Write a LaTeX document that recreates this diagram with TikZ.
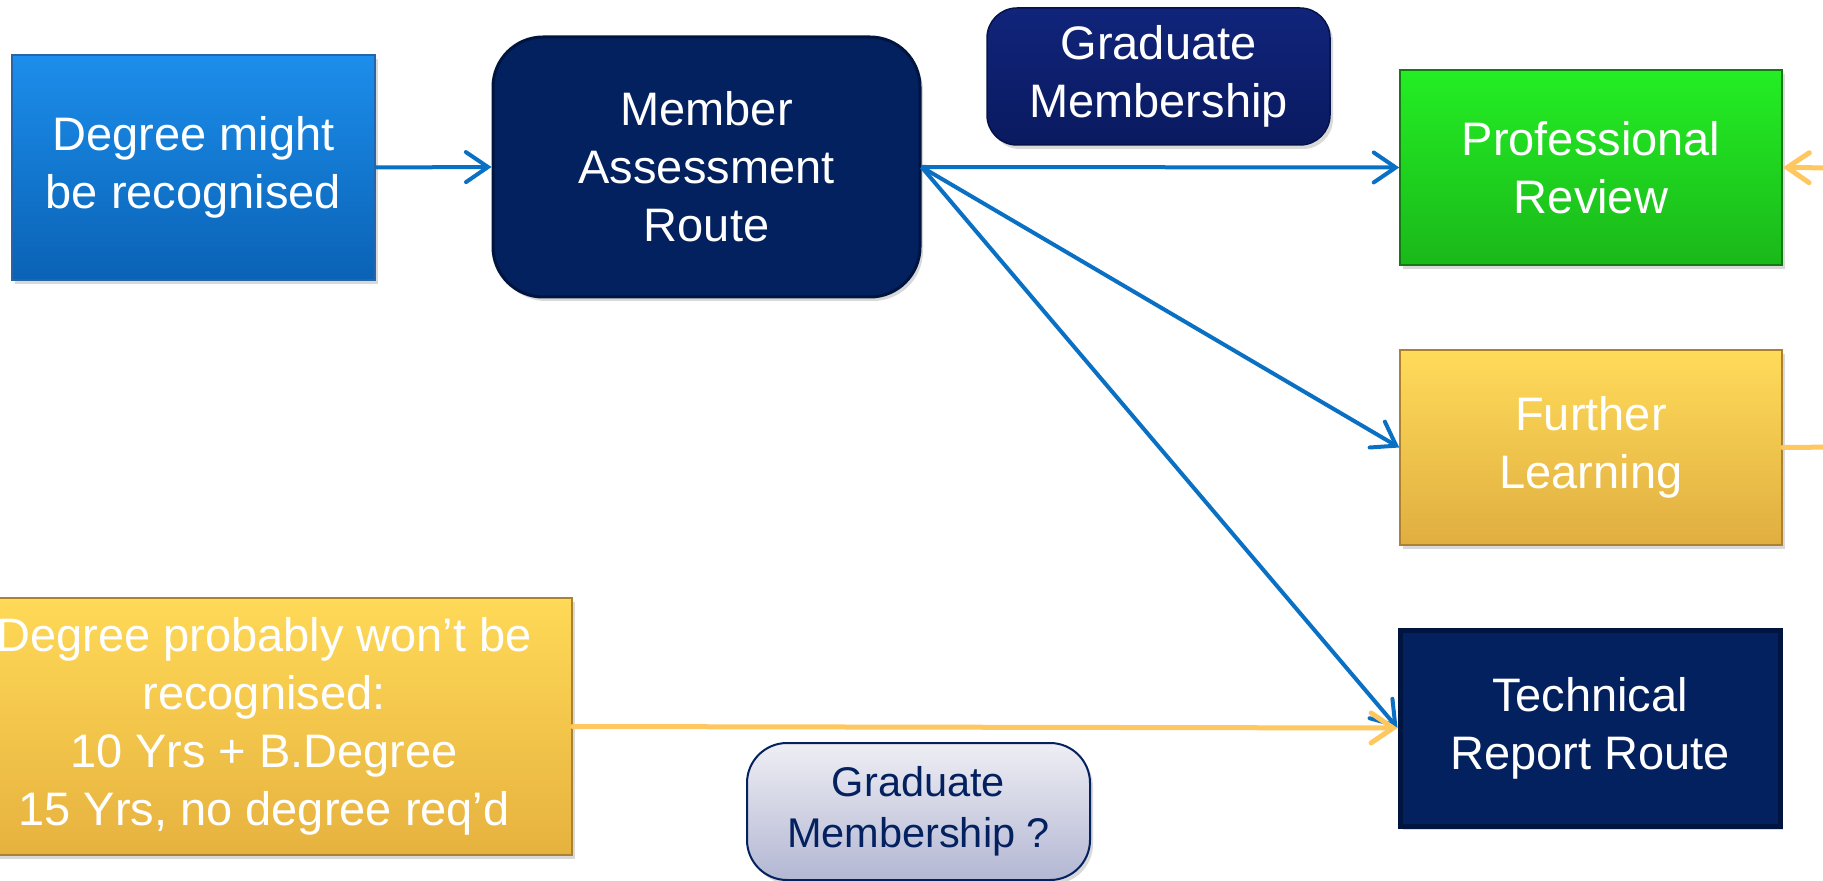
\documentclass[tikz,border=0pt]{standalone}
\usepackage{fontspec}
\setmainfont{Liberation Sans}
\usetikzlibrary{arrows.meta,shadows}
\definecolor{navy}{HTML}{03205F}
\definecolor{navyedge}{HTML}{001440}
\definecolor{arrowblue}{HTML}{0A70C4}
\definecolor{lineorange}{HTML}{FFC75F}
\begin{document}
\begin{tikzpicture}[x=0.5pt,y=-0.5pt,
  box/.style={rectangle, draw, line width=0.75pt, align=center, text=white, inner sep=0pt,
    font=\fontsize{23.5}{29}\selectfont,
    drop shadow={opacity=0.3, shadow xshift=1.5pt, shadow yshift=-2pt}},
  bluearrow/.style={draw=arrowblue, line width=2pt, line join=round,
    -{Straight Barb[length=11pt,width=15pt,line cap=round]}},
  orangeline/.style={draw=lineorange, line width=2.5pt, line cap=round},
  orangearrow/.style={orangeline, line join=round,
    -{Straight Barb[length=11pt,width=15pt,line cap=round]}}]
\useasboundingbox (0,0) rectangle (1823,881);
\clip (0,0) rectangle (1823,881);

\node[box, draw={rgb,255:red,40;green,100;blue,170}, top color={rgb,255:red,28;green,142;blue,235}, bottom color={rgb,255:red,10;green,98;blue,181},
  minimum width=181.5pt, minimum height=112.5pt] (deg) at (193.5,167.5) {Degree might\\be recognised};

\node[box, draw=navyedge, line width=1.5pt, fill=navy, rounded corners=25pt,
  minimum width=213.5pt, minimum height=130pt] (mar) at (706.5,167) {Member\\Assessment\\Route};

\node[box, draw={rgb,255:red,6;green,18;blue,74}, top color={rgb,255:red,16;green,36;blue,122}, bottom color={rgb,255:red,10;green,26;blue,96}, rounded corners=15pt,
  minimum width=171.5pt, minimum height=68.5pt] (gm) at (1158.5,76.5) {Graduate\\Membership};

\node[box, draw={rgb,255:red,20;green,120;blue,20}, top color={rgb,255:red,36;green,238;blue,36}, bottom color={rgb,255:red,26;green,184;blue,26},
  minimum width=191pt, minimum height=97.5pt] (pr) at (1591,167.5) {Professional\\Review};

\node[box, draw={rgb,255:red,170;green,130;blue,50}, top color={rgb,255:red,255;green,219;blue,90}, bottom color={rgb,255:red,224;green,174;blue,64},
  minimum width=191pt, minimum height=97.5pt] (fl) at (1591,447.5) {Further\\Learning};

\node[box, draw=navyedge, line width=2.5pt, fill=navy,
  minimum width=190pt, minimum height=98pt] (trr) at (1590,728) {Technical\\Report Route};

\node[box, draw={rgb,255:red,170;green,130;blue,50}, top color={rgb,255:red,255;green,217;blue,87}, bottom color={rgb,255:red,230;green,178;blue,63},
  minimum width=308pt, minimum height=128.5pt] (dpw) at (264,726.5) {Degree probably won’t be\\recognised:\\10 Yrs + B.Degree\\15 Yrs, no degree req’d};

\node[box, draw=navy, line width=1pt, text=navy, top color={rgb,255:red,238;green,238;blue,244}, bottom color={rgb,255:red,179;green,183;blue,211}, rounded corners=20pt,
  font=\fontsize{20.75}{25.5}\selectfont,
  minimum width=171.5pt, minimum height=68.5pt] (gmq) at (918.5,811.5) {Graduate\\Membership ?};

\coordinate (rin) at (1840,168);
\coordinate (rout) at (1840,447);

\draw[bluearrow] (deg.east) -- (mar.west);
\draw[bluearrow] (mar.east) -- (pr.west);
\draw[bluearrow] (mar.east) -- (fl.west);
\draw[bluearrow] (mar.east) -- (trr.west);
\draw[orangearrow] (dpw.east) -- (trr.west);
\draw[orangearrow] (rin) -- (pr.east);
\draw[orangeline] (fl.east) -- (rout);
\end{tikzpicture}
\end{document}
